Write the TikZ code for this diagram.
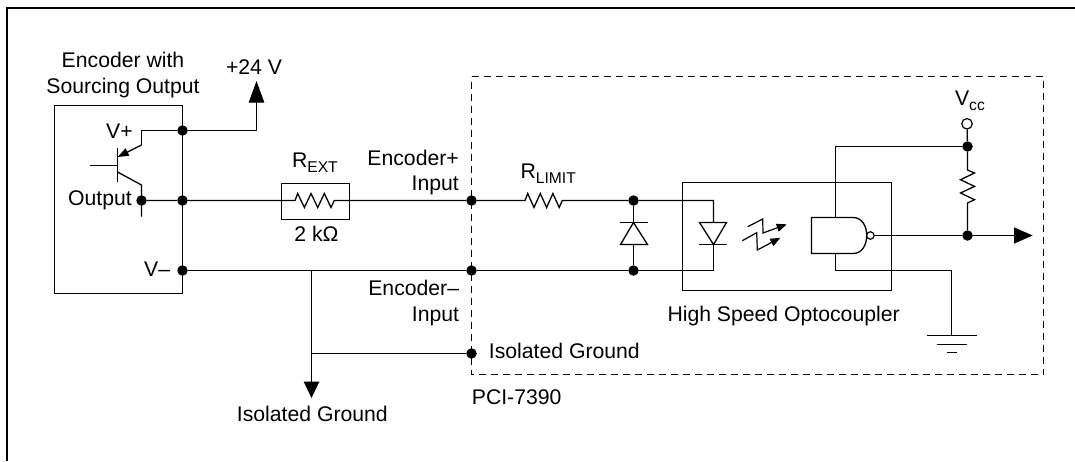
\documentclass[tikz,border=0pt]{standalone}
\usepackage{fontspec}
\setmainfont{Liberation Sans}
\usetikzlibrary{arrows.meta}
\newcommand{\zigh}{-- ++(2.7,-7) -- ++(6.7,14) -- ++(6.6,-14) -- ++(6.7,14) -- ++(6.6,-14) -- ++(6.7,14) -- ++(3.3,-7)}
\newcommand{\zigv}{-- ++(7,3) -- ++(-14,6.7) -- ++(14,6.7) -- ++(-14,6.6) -- ++(14,6.7) -- ++(-7,3.3)}
\tikzset{
  wire/.style={line width=1.3pt,line cap=butt,line join=miter},
  boxline/.style={line width=1.3pt,draw=black},
  dot/.style={circle,fill=black,inner sep=0pt,minimum size=10.5pt},
  opendot/.style={circle,draw=black,fill=white,line width=1.2pt,inner sep=0pt},
  lightarrow/.style={line width=1.2pt,-{Triangle[length=10pt,width=8pt]}},
  lab/.style={font=\fontsize{21.2pt}{24pt}\selectfont,inner sep=0pt,text=black},
  sublab/.style={font=\fontsize{15.6pt}{18pt}\selectfont,inner sep=0pt,text=black},
}
\begin{document}
\begin{tikzpicture}[x=1pt,y=-1pt]
\useasboundingbox (0,0) rectangle (1075,461);
% page rule (top and left only)
\coordinate (pageBL) at (7,461);
\coordinate (pageTL) at (7,7.5);
\coordinate (pageTR) at (1075,7.5);
\draw[line width=2pt] (pageBL) -- (pageTL) -- (pageTR);
% dashed board outline
\coordinate (bTL) at (471.5,76.5);
\coordinate (bTR) at (1043.5,76.5);
\coordinate (bBR) at (1043.5,374.5);
\coordinate (bBL) at (471.5,374.5);
\draw[dash pattern=on 7pt off 5pt,line width=1.3pt] (bTL) -- (bTR) -- (bBR) -- (bBL) -- cycle;
% boxes
\node[boxline,draw,inner sep=0pt,minimum width=128pt,minimum height=188pt,outer sep=0pt,anchor=north west] (enc) at (54.5,105.5) {};
\node[boxline,draw,inner sep=0pt,minimum width=68.5pt,minimum height=36pt,anchor=north west] (rext) at (280.5,182.5) {};
\node[boxline,draw,inner sep=0pt,minimum width=209pt,minimum height=108pt,anchor=north west] (opto) at (681.5,181.5) {};
% junctions
\node[dot] (jtop) at (182.5,130.5) {};
\node[dot] (jmid) at (182.5,200.5) {};
\node[dot] (jlow) at (182.5,270.5) {};
\node[dot] (jout) at (141.5,200.5) {};
\node[dot] (jep) at (471.5,200.5) {};
\node[dot] (jem) at (471.5,270.5) {};
\node[dot] (jig) at (471.5,353.5) {};
\node[dot] (jda) at (633.5,200.5) {};
\node[dot] (jdc) at (633.5,270.5) {};
\node[dot] (jvcc) at (967.5,146.5) {};
\node[dot] (jy) at (967.5,235.5) {};
\node[opendot,minimum size=10.5pt] (vcc) at (967,123.8) {};
% named free ends
\coordinate (p24) at (256.5,81);
\coordinate (p24c) at (256.5,130.5);
\coordinate (igt) at (311.5,398);
\coordinate (igTop) at (311.5,270.5);
\coordinate (igJ) at (311.5,353.5);
\coordinate (outT) at (1032.7,235.5);
\coordinate (bub) at (870.4,235.5);
\coordinate (gnd) at (951.5,335.5);
% +24 V
\draw[wire,-{Triangle[length=21.7pt,width=15.5pt]}] (jtop) -- (p24c) -- (p24);
% transistor
\draw[wire] (jtop) -- (141.5,130.5) -- (141.5,145);
\draw[wire,-{Triangle[length=11pt,width=8pt]}] (141.5,145) -- (117.6,157);
\draw[wire] (117.5,148) -- (117.5,182);
\draw[wire] (90,165.5) -- (117.5,165.5);
\draw[wire] (117.5,172) -- (141.5,185) -- (141.5,216.7);
% main wires
\draw[wire] (jout) -- (jmid) -- (295,200.5) \zigh -- (jep) -- (525,200.5) -- ++(2.7,-7) -- ++(6.3,14) -- ++(6.3,-14) -- ++(6.3,14) -- ++(6.3,-14) -- ++(6.3,14) -- ++(3.1,-7) -- (jda) -- (713.5,200.5) -- (713.5,222.5);
\draw[wire] (jlow) -- (jem) -- (jdc) -- (713.5,270.5) -- (713.5,244.5);
\draw[wire,-{Triangle[length=16.5pt,width=15.5pt]}] (igTop) -- (igt);
\draw[wire] (igJ) -- (jig);
% clamp diode
\draw[wire] (jda) -- (633.5,222.5);
\draw[wire] (620,222.5) -- (648,222.5);
\draw[wire] (633.5,222.5) -- (647.5,244.5) -- (620.5,244.5) -- cycle;
\draw[wire] (633.5,244.5) -- (jdc);
% LED
\draw[wire] (699.5,222.5) -- (726.5,222.5) -- (713.5,244.5) -- cycle;
\draw[wire] (699,244.5) -- (727,244.5);
% light arrows
\draw[lightarrow] (747.7,226.7) -- (762.7,219) -- (763,233) -- (786.7,224.3);
\draw[lightarrow] (742.3,240.7) -- (756.7,232.7) -- (757.3,250) -- (780.3,237.8);
% NAND
\draw[wire] (811.5,217.5) -- (853,217.5) .. controls (862,217.5) and (866.7,226) .. (866.7,235.5) .. controls (866.7,245) and (862,253.5) .. (853,253.5) -- (811.5,253.5) -- cycle;
\node[opendot,minimum size=7.5pt] (bubble) at (bub) {};
\draw[wire] (835.5,217.5) -- (835.5,146.5) -- (jvcc);
\draw[wire] (835.5,253.5) -- (835.5,270.5) -- (951.5,270.5) -- (gnd);
\draw[wire,-{Triangle[length=18.7pt,width=16pt]}] (bubble) -- (jy) -- (outT);
% Vcc
\draw[wire] (vcc) -- (jvcc) -- (967.5,170) \zigv -- (jy);
% ground
\draw[wire] (927.3,335.5) -- (976.7,335.5);
\draw[wire] (936.7,344.5) -- (967,344.5);
\draw[wire] (946.7,352.5) -- (957,352.5);
% labels
\node[lab,anchor=base] (t1) at (123,67.7) {Encoder with};
\node[lab,anchor=base] (t2) at (123,93.3) {Sourcing Output};
\node[lab,anchor=base] (t3) at (254,74) {+24 V};
\node[lab,anchor=base west] (t4) at (106,138.3) {V+};
\node[lab,anchor=base east] (t5) at (132,205.7) {Output};
\node[lab,anchor=base west] (t6) at (144,276) {V–};
\node[lab,anchor=base west] (t7) at (292,167.7) {R};
\node[sublab,anchor=base west] (t7s) at (307.2,172.7) {EXT};
\node[lab,anchor=base] (t8) at (316.5,241.7) {2 kΩ};
\node[lab,anchor=base east] (t9) at (459,165) {Encoder+};
\node[lab,anchor=base east] (t10) at (459,190) {Input};
\node[lab,anchor=base west] (t11) at (520.5,178) {R};
\node[sublab,anchor=base west] (t11s) at (535.7,183) {LIMIT};
\node[lab,anchor=base east] (t12) at (459.3,295) {Encoder–};
\node[lab,anchor=base east] (t13) at (459.3,321) {Input};
\node[lab,anchor=base west] (t14) at (488.7,358.7) {Isolated Ground};
\node[lab,anchor=base west] (t15) at (236.7,421.7) {Isolated Ground};
\node[lab,anchor=base west] (t16) at (471.7,404.3) {PCI-7390};
\node[lab,anchor=base] (t17) at (783.6,321) {High Speed Optocoupler};
\node[lab,anchor=base west] (t18) at (955,105) {V};
\node[sublab,anchor=base west] (t18s) at (969,110.7) {cc};
\end{tikzpicture}
\end{document}
